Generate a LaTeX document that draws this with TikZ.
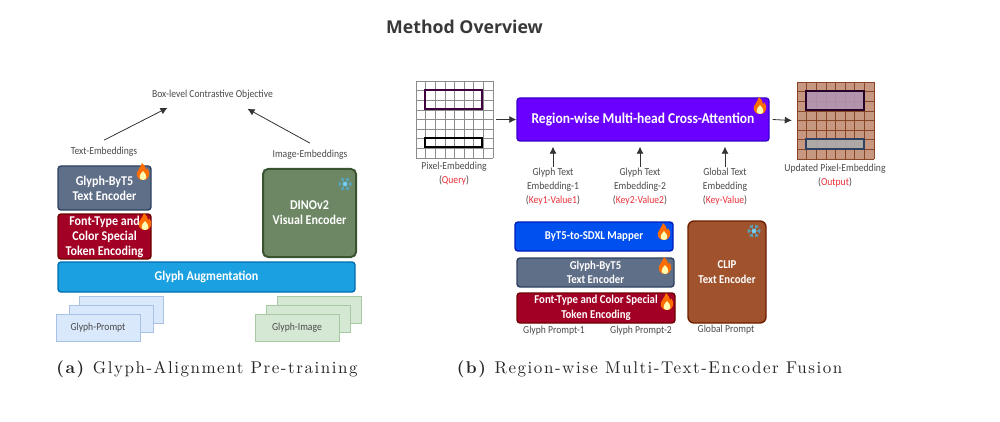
\documentclass[tikz,border=0pt]{standalone}
\usepackage{fontspec}
\setmainfont[FakeStretch=0.9]{Carlito}
\newfontfamily\titlefont{Open Sans}
\newfontfamily\capfont[LetterSpace=9,BoldFont=lmroman10-bold.otf]{lmroman10-regular.otf}
\usetikzlibrary{arrows.meta}
\definecolor{slatefill}{HTML}{5F6F88}
\definecolor{slateline}{HTML}{2F4160}
\definecolor{redfill}{HTML}{A20025}
\definecolor{redline}{HTML}{6F0000}
\definecolor{greenfill}{HTML}{6D8764}
\definecolor{greenline}{HTML}{3A5431}
\definecolor{cyanfill}{HTML}{1BA1E2}
\definecolor{cyanline}{HTML}{006EAF}
\definecolor{indigofill}{HTML}{6A00FF}
\definecolor{indigoline}{HTML}{3700CC}
\definecolor{bluefill}{HTML}{0050EF}
\definecolor{blueline}{HTML}{001DBC}
\definecolor{brownfill}{HTML}{A0522D}
\definecolor{brownline}{HTML}{6D1F00}
\definecolor{keyred}{HTML}{E8303A}
\definecolor{labelgray}{HTML}{4A4A4A}
\definecolor{promptfill}{HTML}{DAE8FC}
\definecolor{promptline}{HTML}{A9C1E4}
\definecolor{imagefill}{HTML}{D5E8D4}
\definecolor{imageline}{HTML}{A9C9A4}
\tikzset{
	x=1pt,y=-1pt,
	block/.style={draw,rounded corners=3pt,line width=1.4pt,align=center,text=white,inner sep=0pt,
		font=\fontsize{13.4}{15}\selectfont\bfseries},
	smallblock/.style={block,font=\fontsize{12}{14.5}\selectfont\bfseries},
	lbl/.style={inner sep=0pt,align=center,text=labelgray,font=\fontsize{10.7}{14}\selectfont},
	card/.style={draw,line width=.8pt,inner sep=0pt,minimum width=84pt,minimum height=27pt,text=labelgray,
		font=\fontsize{10.7}{14}\selectfont},
	flow/.style={-{Latex[length=7pt,width=7pt]},line width=.8pt,draw=black!80},
	caption/.style={inner sep=0pt,text=black!85,font=\fontsize{17}{20}\capfont},
	flame/.pic={
		\fill[orange!85!red] (0,8) .. controls (-7,8) and (-8,1) .. (-4,-3) .. controls (-3,-5) and (-2,-6) .. (-1,-9)
			.. controls (2,-6) and (3,-4) .. (3,-2) .. controls (4,-2) and (4,-3) .. (4,-4)
			.. controls (8,0) and (7,8) .. (0,8) -- cycle;
		\fill[yellow!30] (0,8) .. controls (-4.5,8) and (-4.5,3) .. (0,-1) .. controls (4.5,3) and (4.5,8) .. (0,8) -- cycle;
	},
	flake/.pic={
		\foreach \a in {0,60,...,300} {
			\draw[cyan!60!gray,line width=.8pt,rotate=\a] (0,0) -- (7,0) (4,0) -- (6,-2) (4,0) -- (6,2);
		}
		\fill[cyan!55] (0,0) circle (2.2);
	}
}
\newcommand{\gridlines}[3]{% corner x, corner y, colour
	\foreach \i in {0,...,8} {
		\draw[#3,line width=.6pt] (#1+\i*9.625,#2) -- (#1+\i*9.625,#2+77);
		\draw[#3,line width=.6pt] (#1,#2+\i*9.625) -- (#1+77,#2+\i*9.625);
	}
}
\begin{document}
\begin{tikzpicture}
	\useasboundingbox (0,0) rectangle (1000,422);
	\node[inner sep=0pt,text=black!78,font=\fontsize{17.7}{20}\titlefont\bfseries] (title) at (464.5,27) {Method Overview};

	% left hand
	\node[lbl] (objective) at (212.5,95) {Box-level Contrastive Objective};
	\node[lbl] (textemb) at (104,152) {Text-Embeddings};
	\node[lbl] (imageemb) at (310,155) {Image-Embeddings};
	\node[block,fill=slatefill,draw=slateline,minimum width=93pt,minimum height=44pt] (byt) at (104.5,188) {Glyph-ByT5\\Text Encoder};
	\node[block,fill=redfill,draw=redline,minimum width=93pt,minimum height=45pt] (fontenc) at (104.5,236.5) {Font-Type and\\Color Special\\Token Encoding};
	\node[block,fill=greenfill,draw=greenline,line width=2pt,rounded corners=5pt,minimum width=93pt,minimum height=88pt] (dino) at (309.5,213) {DINOv2\\Visual Encoder};
	\node[block,fill=cyanfill,draw=cyanline,minimum width=297pt,minimum height=30pt] (augment) at (206.5,277) {Glyph Augmentation};
	% prompt cards
	\foreach \x/\y in {121/310,111.5/319} {
		\node[card,fill=promptfill,draw=promptline] at (\x,\y) {};
	}
	\node[card,fill=promptfill,draw=promptline] (promptcard) at (98,327.5) {Glyph-Prompt};
	\foreach \x/\y in {319/310,308/319} {
		\node[card,fill=imagefill,draw=imageline] at (\x,\y) {};
	}
	\node[card,fill=imagefill,draw=imageline] (imagecard) at (297,327.5) {Glyph-Image};
	\draw[flow] ([yshift=7pt]textemb.north) -- ([xshift=-45pt,yshift=-8pt]objective.south);
	\draw[flow] ([yshift=7pt]imageemb.north) -- ([xshift=35pt,yshift=-9pt]objective.south);
	\pic at (143,172) {flame};
	\pic at (145,222) {flame};
	\pic at (345,184) {flake};
	\node[caption] (capa) at (207,369) {\textbf{(a)} Glyph-Alignment Pre-training};

	% right hand
	\node[inner sep=0pt,minimum size=77pt] (pixelgrid) at (454.5,119.5) {};
	\gridlines{416}{81}{black!45}
	\draw[draw=black!50!violet,line width=1.3pt] (425,90) rectangle (482,109);
	\draw[black,line width=1.3pt] (425,138) rectangle (482,147);
	\node[block,fill=indigofill,draw=indigoline,minimum width=252pt,minimum height=43pt,font=\fontsize{15}{17}\selectfont\bfseries] (attention) at (643,119.5) {Region-wise Multi-head Cross-Attention};
	\node[inner sep=0pt,minimum size=77pt,fill=brownfill!60!white] (updategrid) at (835.5,120.5) {};
	\gridlines{797}{82}{brownfill!85!black}
	\draw[fill=violet!40!gray!60,fill opacity=.9,draw=violet!30!black,line width=1.3pt] (806,91) rectangle (864,110);
	\draw[fill=gray!65,fill opacity=.9,draw=slateline,line width=1.3pt] (806,139) rectangle (864,149);
	\draw[flow] (pixelgrid.east) ++(3,0) -- (attention.west);
	\draw[flow] (attention.east) ++(3,0) -- ([xshift=-5pt]updategrid.west);
	\node[lbl] (pixellabel) at (454,174) {Pixel-Embedding\\(\textcolor{keyred}{Query})};
	\node[lbl] (updatelabel) at (835,176) {Updated Pixel-Embedding\\(\textcolor{keyred}{Output})};
	\node[lbl] (keyone) at (553,187) {Glyph Text\\Embedding-1\\(\textcolor{keyred}{Key1-Value1})};
	\node[lbl] (keytwo) at (640,187) {Glyph Text\\Embedding-2\\(\textcolor{keyred}{Key2-Value2})};
	\node[lbl] (keyglobal) at (725,187) {Global Text\\Embedding\\(\textcolor{keyred}{Key-Value})};
	\foreach \k in {keyone,keytwo,keyglobal} {
		\draw[flow,shorten <=1pt,shorten >=5pt] (\k.north) -- (\k.north |- attention.south);
	}
	\pic at (760,106) {flame};

	% encoders
	\node[smallblock,fill=bluefill,draw=blueline,minimum width=158pt,minimum height=29pt] (mapper) at (594,236.5) {ByT5-to-SDXL Mapper};
	\node[smallblock,fill=slatefill,draw=slateline,minimum width=157pt,minimum height=29pt] (bytright) at (595.5,272.5) {Glyph-ByT5\\Text Encoder};
	\node[smallblock,fill=redfill,draw=redline,minimum width=158pt,minimum height=30pt] (fontright) at (596,308) {Font-Type and Color Special\\Token Encoding};
	\node[smallblock,fill=brownfill,draw=brownline,rounded corners=6pt,minimum width=78pt,minimum height=102pt] (clip) at (727,272) {CLIP\\Text Encoder};
	\node[lbl] (promptone) at (554,331) {Glyph Prompt-1};
	\node[lbl] (prompttwo) at (641,331) {Glyph Prompt-2};
	\node[lbl] (promptglobal) at (726,330) {Global Prompt};
	\pic at (664,232) {flame};
	\pic at (665,266) {flame};
	\pic at (667,302) {flame};
	\pic at (754,231) {flake};
	\node[caption] (capb) at (649.5,369) {\textbf{(b)} Region-wise Multi-Text-Encoder Fusion};
\end{tikzpicture}
\end{document}
